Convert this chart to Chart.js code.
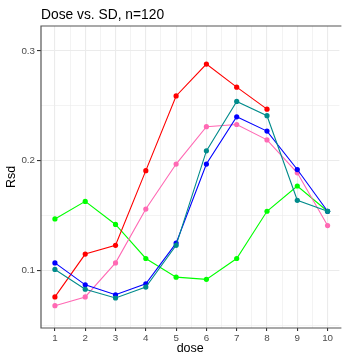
<!DOCTYPE html>
<html>
<head>
<meta charset="utf-8">
<script src="https://cdn.jsdelivr.net/npm/chart.js@4/dist/chart.umd.min.js"></script>
<style>
  html, body { margin: 0; padding: 0; background: #fff; }
  #wrap { width: 342px; height: 355px; position: relative; }
</style>
</head>
<body>
<div id="wrap"><canvas id="rsdChart"></canvas></div>
<script>
// dose levels and tick values
const doses = [1, 2, 3, 4, 5, 6, 7, 8, 9, 10];
const rsdTicks = [0.05, 0.1, 0.15, 0.2, 0.25, 0.3];

// Rsd per dose for each group
const tealRsd  = [0.101, 0.083, 0.075, 0.085, 0.123, 0.209, 0.254, 0.241, 0.164, 0.154];
const blueRsd  = [0.107, 0.087, 0.078, 0.088, 0.125, 0.197, 0.240, 0.227, 0.192, 0.154];
const redRsd   = [0.076, 0.115, 0.123, 0.191, 0.259, 0.288, 0.267, 0.247];
const pinkRsd  = [0.068, 0.076, 0.107, 0.156, 0.197, 0.231, 0.233, 0.219, 0.189, 0.141];
const greenRsd = [0.147, 0.163, 0.142, 0.111, 0.094, 0.092, 0.111, 0.154, 0.177, 0.154];

function toPoints(vals) {
  return vals.map((v, i) => ({ x: doses[i], y: v }));
}

function series(vals, color) {
  return {
    data: toPoints(vals),
    borderColor: color,
    backgroundColor: color,
    borderWidth: 1.1,
    pointRadius: 2.6,
    pointHoverRadius: 2.6,
    pointBorderWidth: 0,
    tension: 0
  };
}

const fontFam = "'Liberation Sans', Arial, sans-serif";
const gridCol = "#EBEBEB";
const isMajorX = v => Number.isInteger(Math.round(v * 100) / 100);
const isLabelY = v => [0.1, 0.2, 0.3].some(t => Math.abs(t - v) < 1e-6);

// panel border and title
const panelPlugin = {
  id: "panel",
  afterDraw(chart) {
    const { ctx, chartArea: a } = chart;
    ctx.save();
    ctx.strokeStyle = "#555";
    ctx.lineWidth = 1.2;
    ctx.beginPath();
    ctx.moveTo(a.right + 2, a.top);
    ctx.lineTo(a.left, a.top);
    ctx.lineTo(a.left, a.bottom);
    ctx.lineTo(a.right + 2, a.bottom);
    ctx.stroke();
    ctx.fillStyle = "#000";
    ctx.font = "13.8px " + fontFam;
    ctx.textBaseline = "alphabetic";
    ctx.textAlign = "left";
    ctx.fillText("Dose vs. SD, n=120", a.left, 18.5);
    ctx.restore();
  }
};

new Chart(document.getElementById("rsdChart"), {
  type: "line",
  data: {
    datasets: [
      series(tealRsd, "#008B8B"),
      series(blueRsd, "#0000FF"),
      series(redRsd, "#FF0000"),
      series(pinkRsd, "#FF69B4"),
      series(greenRsd, "#00FF00")
    ]
  },
  options: {
    responsive: true,
    maintainAspectRatio: false,
    animation: false,
    layout: { padding: { top: 26, left: 0, right: 0, bottom: 0 } },
    plugins: { legend: { display: false }, tooltip: { enabled: false } },
    scales: {
      x: {
        type: "linear",
        min: 0.54,
        max: 10.39,
        afterFit(scale) { scale.height = 27; },
        afterBuildTicks(scale) {
          const t = [];
          doses.forEach(d => { t.push({ value: d - 0.5 }); t.push({ value: d }); });
          t.push({ value: 10.5 });
          scale.ticks = t.filter(k => k.value >= scale.min && k.value <= scale.max);
        },
        border: { display: false },
        grid: {
          color: gridCol,
          lineWidth: c => (isMajorX(c.tick.value) ? 1.1 : 0.6),
          tickColor: c => (isMajorX(c.tick.value) ? "#333" : "rgba(0,0,0,0)"),
          tickLength: 3,
          drawOnChartArea: true
        },
        ticks: {
          autoSkip: false,
          maxRotation: 0,
          padding: 1.5,
          color: "#4D4D4D",
          font: { family: fontFam, size: 9.8 },
          callback: v => (isMajorX(v) ? String(v) : "")
        },
        title: {
          display: true,
          text: "dose",
          color: "#000",
          font: { family: fontFam, size: 12.5 },
          padding: { top: 0, bottom: -1 }
        }
      },
      y: {
        type: "linear",
        min: 0.0477,
        max: 0.3227,
        afterFit(scale) { scale.width = 41; },
        afterBuildTicks(scale) {
          scale.ticks = rsdTicks.map(v => ({ value: v }));
        },
        border: { display: false },
        grid: {
          color: gridCol,
          lineWidth: c => (isLabelY(c.tick.value) ? 1.1 : 0.6),
          tickColor: c => (isLabelY(c.tick.value) ? "#333" : "rgba(0,0,0,0)"),
          tickLength: 4
        },
        ticks: {
          autoSkip: false,
          padding: 2,
          color: "#4D4D4D",
          font: { family: fontFam, size: 9.8 },
          callback: v => (isLabelY(v) ? v.toFixed(1) : "")
        },
        title: {
          display: true,
          text: "Rsd",
          color: "#000",
          font: { family: fontFam, size: 12.5 },
          padding: { top: 4, bottom: 0 }
        }
      }
    }
  },
  plugins: [panelPlugin]
});
</script>
</body>
</html>
